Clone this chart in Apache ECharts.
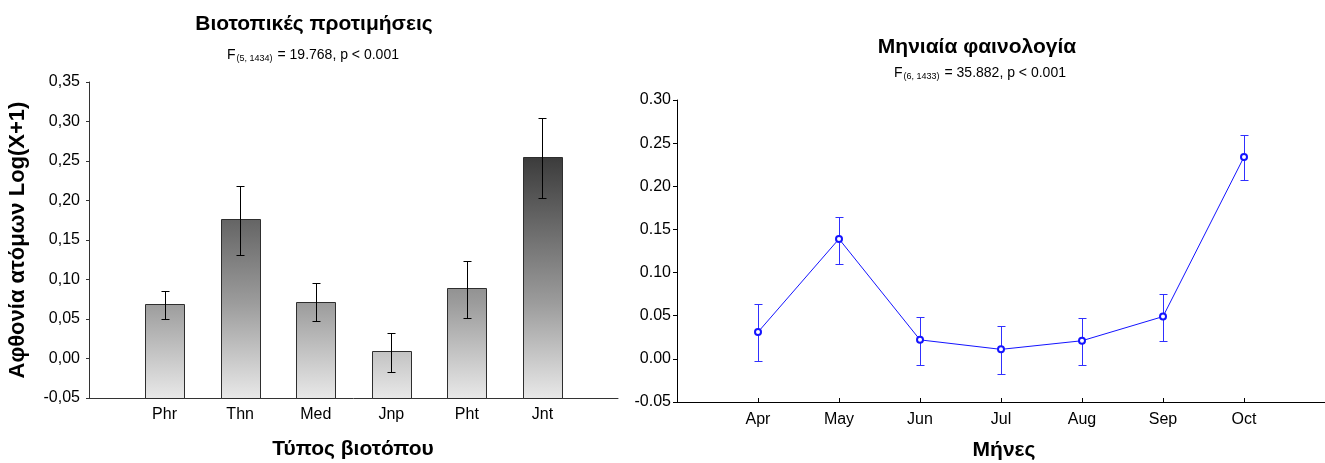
<!DOCTYPE html>
<html>
<head>
<meta charset="utf-8">
<script src="https://cdn.jsdelivr.net/npm/echarts@6/dist/echarts.min.js"></script>
<style>
  html, body { margin: 0; padding: 0; background: #fff; }
  #chart { width: 1325px; height: 463px; }
</style>
</head>
<body>
<div id="chart"></div>
<script>
// Habitat preferences: mean abundance Log(X+1) with confidence limits
const habitats = ['Phr', 'Thn', 'Med', 'Jnp', 'Pht', 'Jnt'];
const habitatMean  = [0.069, 0.176, 0.072, 0.009, 0.089, 0.255];
const habitatUpper = [0.085, 0.218, 0.095, 0.032, 0.123, 0.304];
const habitatLower = [0.050, 0.131, 0.047, -0.017, 0.051, 0.203];

// Monthly phenology
const months = ['Apr', 'May', 'Jun', 'Jul', 'Aug', 'Sep', 'Oct'];
const monthMean  = [0.031, 0.139, 0.022, 0.011, 0.021, 0.049, 0.234];
const monthUpper = [0.063, 0.164, 0.049, 0.038, 0.047, 0.075, 0.260];
const monthLower = [-0.002, 0.110, -0.007, -0.017, -0.007, 0.021, 0.207];

const FONT = '"Liberation Sans", Arial, sans-serif';

// plot areas
const G0 = { left: 89, top: 82, width: 529, height: 316 };
const G1 = { left: 677, top: 100, width: 655, height: 302 };
const Y0 = { min: -0.05, max: 0.35 };
const Y1 = { min: -0.05, max: 0.30 };

const chart = echarts.init(document.getElementById('chart'), null, { renderer: 'canvas' });

// bar fill darkens towards the top of the plot area
const barFill = new echarts.graphic.LinearGradient(0, G0.top, 0, G0.top + G0.height, [
  { offset: 0.00, color: '#161616' },
  { offset: 0.24, color: '#3c3c3c' },
  { offset: 0.70, color: '#9c9c9c' },
  { offset: 1.00, color: '#e8e8e8' }
], true);

const px = v => Math.round(v) + 0.5;

function errorBarRenderer(color, cap) {
  return function (params, api) {
    const x = api.value(0);
    const pHi = api.coord([x, api.value(2)]);
    const pLo = api.coord([x, api.value(1)]);
    const cx = px(pHi[0]);
    const st = { stroke: color, lineWidth: 1 };
    return {
      type: 'group',
      children: [
        { type: 'line', shape: { x1: cx, y1: px(pHi[1]), x2: cx, y2: px(pLo[1]) }, style: st },
        { type: 'line', shape: { x1: cx - cap / 2, y1: px(pHi[1]), x2: cx + cap / 2, y2: px(pHi[1]) }, style: st },
        { type: 'line', shape: { x1: cx - cap / 2, y1: px(pLo[1]), x2: cx + cap / 2, y2: px(pLo[1]) }, style: st }
      ]
    };
  };
}

const axisText = { color: '#000', fontFamily: FONT, fontSize: 16 };

function subtitle(x, y, df, value) {
  return {
    type: 'text', x: x, y: y,
    style: {
      text: 'F{s|(' + df + ')} = ' + value + ', p < 0.001',
      font: '14px ' + FONT, fill: '#000', align: 'center', verticalAlign: 'middle',
      rich: { s: { fontSize: 9, fontFamily: FONT, padding: [8, 1, 0, 1] } }
    }
  };
}

function heading(x, y, text) {
  return { type: 'text', x: x, y: y, style: { text: text, font: 'bold 21px ' + FONT, fill: '#000', align: 'center', verticalAlign: 'middle' } };
}

const option = {
  animation: false,
  backgroundColor: '#fff',
  grid: [
    { left: G0.left, top: G0.top, width: G0.width, height: G0.height },
    { left: G1.left, top: G1.top, width: G1.width, height: G1.height }
  ],
  xAxis: [
    {
      gridIndex: 0, type: 'value', min: 0, max: habitats.length + 1,
      axisLine: { onZero: false, lineStyle: { color: '#333', width: 1 } },
      axisTick: { show: true, inside: true, length: 3, customValues: habitats.map((_, i) => i + 1), lineStyle: { color: '#333' } },
      axisLabel: { ...axisText, margin: 9, customValues: habitats.map((_, i) => i + 1), formatter: v => habitats[v - 1] || '' },
      splitLine: { show: false }
    },
    {
      gridIndex: 1, type: 'value', min: 0, max: months.length + 1,
      axisLine: { onZero: false, lineStyle: { color: '#000', width: 1 } },
      axisTick: { show: true, inside: true, length: 4, customValues: months.map((_, i) => i + 1), lineStyle: { color: '#000' } },
      axisLabel: { ...axisText, margin: 10, customValues: months.map((_, i) => i + 1), formatter: v => months[v - 1] || '' },
      splitLine: { show: false }
    }
  ],
  yAxis: [
    {
      gridIndex: 0, type: 'value', min: Y0.min, max: Y0.max, interval: 0.05,
      name: 'Αφθονία ατόμων Log(X+1)', nameLocation: 'middle', nameGap: 60,
      nameTextStyle: { color: '#000', fontFamily: FONT, fontSize: 22, fontWeight: 'bold' },
      axisLine: { show: true, onZero: false, lineStyle: { color: '#333', width: 1 } },
      axisTick: { show: true, length: 3, lineStyle: { color: '#333' } },
      axisLabel: { ...axisText, margin: 9, formatter: v => v.toFixed(2).replace('.', ',') },
      splitLine: { show: false }
    },
    {
      gridIndex: 1, type: 'value', min: Y1.min, max: Y1.max, interval: 0.05,
      axisLine: { show: true, onZero: false, lineStyle: { color: '#000', width: 1 } },
      axisTick: { show: true, length: 4, lineStyle: { color: '#000' } },
      axisLabel: { ...axisText, margin: 6, formatter: v => v.toFixed(2) },
      splitLine: { show: false }
    }
  ],
  graphic: [
    heading(314, 24, 'Βιοτοπικές προτιμήσεις'),
    subtitle(313, 55, '5, 1434', '19.768'),
    heading(353, 449, 'Τύπος βιοτόπου'),
    heading(977, 47, 'Μηνιαία φαινολογία'),
    subtitle(980, 73, '6, 1433', '35.882'),
    heading(1004, 450, 'Μήνες')
  ],
  series: [
    {
      type: 'custom', xAxisIndex: 0, yAxisIndex: 0, z: 2,
      data: habitatMean.map((v, i) => [i + 1, v]),
      renderItem: function (params, api) {
        const x = api.value(0);
        const top = api.coord([x, api.value(1)]);
        const base = api.coord([x, Y0.min]);
        const w = Math.round(api.size([1, 0])[0] * 0.51);
        const x0 = Math.round(top[0] - w / 2) + 0.5;
        const y0 = Math.round(top[1]) + 0.5;
        return {
          type: 'rect',
          shape: { x: x0, y: y0, width: w, height: Math.round(base[1]) - Math.round(top[1]) },
          style: { fill: barFill, stroke: '#2e2e2e', lineWidth: 1 }
        };
      }
    },
    {
      type: 'custom', xAxisIndex: 0, yAxisIndex: 0, z: 3,
      data: habitatMean.map((_, i) => [i + 1, habitatLower[i], habitatUpper[i]]),
      renderItem: errorBarRenderer('#000', 8)
    },
    {
      type: 'line', xAxisIndex: 1, yAxisIndex: 1, z: 3,
      data: monthMean.map((v, i) => [i + 1, v]),
      symbol: 'emptyCircle', symbolSize: 6,
      itemStyle: { color: '#1414ff', borderColor: '#1414ff', borderWidth: 1 },
      lineStyle: { color: '#1414ff', width: 1 }
    },
    {
      type: 'custom', xAxisIndex: 1, yAxisIndex: 1, z: 2,
      data: monthMean.map((_, i) => [i + 1, monthLower[i], monthUpper[i]]),
      renderItem: errorBarRenderer('#3030ff', 8)
    }
  ]
};

chart.setOption(option);
</script>
</body>
</html>
